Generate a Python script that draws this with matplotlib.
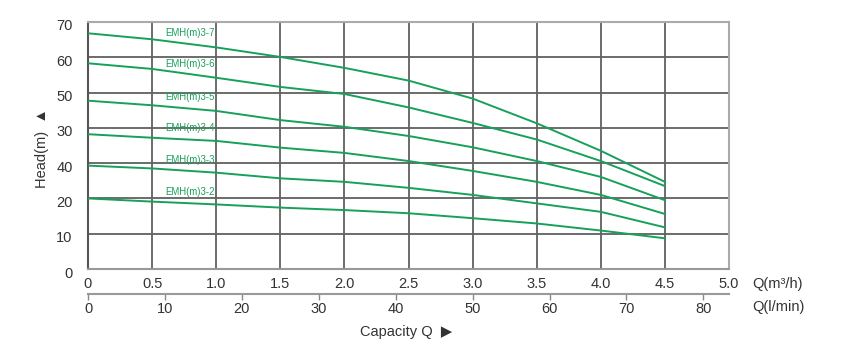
import matplotlib.pyplot as plt
from matplotlib.transforms import ScaledTranslation

plt.rcParams['font.family'] = ['Liberation Sans', 'DejaVu Sans']

# flow in m3/h where the curves were read
flow = [0.0, 0.5, 1.0, 1.5, 2.0, 2.5, 3.0, 3.5, 4.0, 4.5]

# head in m for each pump model
heads = {
    'EMH(m)3-7': [66.8, 65.1, 62.8, 60.1, 57.0, 53.4, 48.3, 41.3, 33.5, 24.7],
    'EMH(m)3-6': [58.3, 56.7, 54.2, 51.6, 49.6, 45.8, 41.4, 36.7, 30.6, 23.5],
    'EMH(m)3-5': [47.7, 46.4, 44.8, 42.2, 40.3, 37.7, 34.5, 30.6, 26.1, 19.5],
    'EMH(m)3-4': [38.2, 37.2, 36.3, 34.4, 32.9, 30.6, 27.8, 24.7, 21.0, 15.6],
    'EMH(m)3-3': [29.3, 28.5, 27.3, 25.7, 24.7, 23.0, 21.0, 18.6, 16.2, 11.8],
    'EMH(m)3-2': [20.0, 19.1, 18.3, 17.4, 16.7, 15.8, 14.4, 12.9, 10.9, 8.7],
}
label_pos = {
    'EMH(m)3-7': 66.9, 'EMH(m)3-6': 58.1, 'EMH(m)3-5': 48.8,
    'EMH(m)3-4': 40.0, 'EMH(m)3-3': 30.9, 'EMH(m)3-2': 21.9,
}

x_ticks = [0, 0.5, 1.0, 1.5, 2.0, 2.5, 3.0, 3.5, 4.0, 4.5, 5.0]
x_labels = ['0', '0.5', '1.0', '1.5', '2.0', '2.5', '3.0', '3.5', '4.0', '4.5', '5.0']
y_ticks = [0, 10, 20, 30, 40, 50, 60, 70]
# labels as printed on the original sheet (30 and 40 swapped)
y_labels = ['0', '10', '20', '40', '30', '50', '60', '70']
lmin_ticks = [0, 10, 20, 30, 40, 50, 60, 70, 80]

green = '#17a05a'
grid_c = '#606060'
text_c = '#333333'
fs = 10.5

fig = plt.figure(figsize=(8.43, 3.52), dpi=100)
ax = fig.add_axes([88 / 843, 1 - 269 / 352, 641 / 843, 247 / 352])

for name, h in heads.items():
    ax.plot(flow, h, color=green, lw=1.4, zorder=3)
    ax.text(0.6, label_pos[name], name, color=green, fontsize=6.9,
            ha='left', va='center', zorder=4)

ax.set_xlim(0, 5.0)
ax.set_ylim(0, 70)
ax.set_xticks(x_ticks)
ax.set_xticklabels(x_labels)
ax.set_yticks(y_ticks)
ax.set_yticklabels(y_labels)
ax.grid(True, color=grid_c, lw=1.3, zorder=1)
ax.tick_params(axis='both', length=0, labelsize=fs, colors=text_c)
ax.tick_params(axis='x', pad=6)
ax.tick_params(axis='y', pad=11)
# y labels sit a little below their grid lines
shift = ScaledTranslation(0, -3 / 100, fig.dpi_scale_trans)
for t in ax.get_yticklabels():
    t.set_transform(t.get_transform() + shift)

ax.spines['left'].set_color('#555555')
ax.spines['bottom'].set_color('#999999')
ax.spines['top'].set_color('#aaaaaa')
ax.spines['right'].set_color('#aaaaaa')
for s in ax.spines.values():
    s.set_linewidth(1.5)

# second scale in l/min
sec = ax.secondary_xaxis(-25 / 247, functions=(lambda q: q * 1000 / 60,
                                               lambda l: l * 60 / 1000))
sec.set_xticks(lmin_ticks)
sec.spines['bottom'].set_color('#999999')
sec.spines['bottom'].set_linewidth(1.5)
sec.tick_params(axis='x', length=4, width=1, color='#888888',
                labelsize=fs, labelcolor=text_c, pad=2)

fig.text(752 / 843, 1 - 284 / 352, 'Q(m\u00b3/h)', fontsize=fs, color=text_c,
         ha='left', va='center')
fig.text(752 / 843, 1 - 307 / 352, 'Q(l/min)', fontsize=fs, color=text_c,
         ha='left', va='center')
fig.text(406 / 843, 1 - 332 / 352, 'Capacity Q  \u25b6', fontsize=fs,
         color=text_c, ha='center', va='center')
fig.text(42 / 843, 1 - 148 / 352, 'Head(m)  \u25b2', fontsize=fs,
         color=text_c, ha='center', va='center', rotation=90)

fig.savefig('out.png', dpi=100, facecolor='white')
